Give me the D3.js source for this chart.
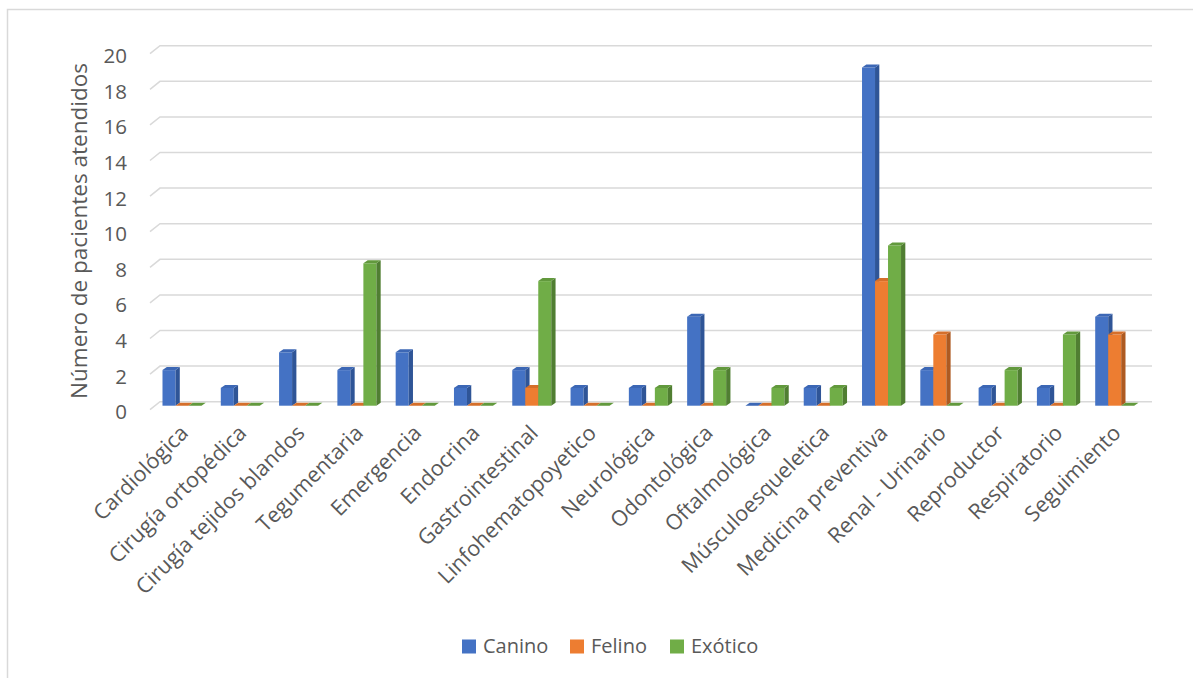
<!DOCTYPE html>
<html>
<head>
<meta charset="utf-8">
<script src="https://cdn.jsdelivr.net/npm/d3@7"></script>
<style>
  html, body { margin: 0; padding: 0; background: #fff; }
  svg { display: block; }
  text { font-family: "Open Sans", "Noto Sans", sans-serif; fill: #595959; }
</style>
</head>
<body>
<svg id="chart" width="1193" height="678"></svg>
<script>
// Patients seen per clinical area and species
const categories = [
  "Cardiológica", "Cirugía ortopédica", "Cirugía tejidos blandos", "Tegumentaria",
  "Emergencia", "Endocrina", "Gastrointestinal", "Linfohematopoyetico",
  "Neurológica", "Odontológica", "Oftalmológica", "Músculoesqueletica",
  "Medicina preventiva", "Renal - Urinario", "Reproductor", "Respiratorio", "Seguimiento"
];
const seriesNames = ["Canino", "Felino", "Exótico"];
const canino  = [2, 1, 3, 2, 3, 1, 2, 1, 1, 5, 0, 1, 19, 2, 1, 1, 5];
const felino  = [0, 0, 0, 0, 0, 0, 1, 0, 0, 0, 0, 0, 7, 4, 0, 0, 4];
const exotico = [0, 0, 0, 8, 0, 0, 7, 0, 1, 2, 1, 1, 9, 0, 2, 4, 0];
const yTicks  = [0, 2, 4, 6, 8, 10, 12, 14, 16, 18, 20];
const yTitle  = "Número de pacientes atendidos";

const seriesValues = [canino, felino, exotico];
const palette = [
  { front: "#4472C4", side: "#2F5597", top: "#3C67B5" },
  { front: "#ED7D31", side: "#AE5A21", top: "#D56F2B" },
  { front: "#70AD47", side: "#507E32", top: "#62993D" }
];

const svg = d3.select("#chart");

// outer chart frame (extends past the visible area on the right and bottom)
svg.append("rect")
  .attr("x", 7.5).attr("y", 9.5)
  .attr("width", 1200).attr("height", 700)
  .attr("fill", "none").attr("stroke", "#d9d9d9").attr("stroke-width", 1.5);

// 3D projection offsets
const depthX = 4.3, depthY = -3;      // bar depth
const wallX = 10, wallY = -8;         // floor depth to the back wall

const y = d3.scaleLinear().domain([0, 20]).range([405.7, 49.7]);
const x = d3.scaleBand().domain(categories).range([155, 1146]).padding(0);
const barW = 13;
const xs = d3.scaleBand().domain(seriesNames).range([0, barW * 3]).padding(0);

// back wall gridlines with the side-wall segment on the left
const wallLeft = 160, wallRight = 1152;
const grid = svg.append("g");
yTicks.forEach(t => {
  const yb = y(t) + 4 + wallY;
  grid.append("path")
    .attr("d", `M${wallLeft - wallX},${yb - wallY}L${wallLeft},${yb}L${wallRight},${yb}`)
    .attr("fill", "none").attr("stroke", "#d9d9d9").attr("stroke-width", 1.5);
});

// value axis labels
const yAxis = d3.axisLeft(y).tickValues(yTicks).tickSize(0).tickPadding(0);
const yAxisG = svg.append("g").attr("transform", "translate(127,6.5)").call(yAxis);
yAxisG.select(".domain").remove();
yAxisG.selectAll("text")
  .attr("font-size", 20.5)
  .attr("fill", "#595959")
  .style("font-family", "'Open Sans', sans-serif");

// axis title
svg.append("text")
  .attr("transform", `translate(87,231) rotate(-90)`)
  .attr("text-anchor", "middle")
  .attr("font-size", 22.5)
  .text(yTitle);

// bars
const bars = svg.append("g");
categories.forEach((c, ci) => {
  const cx0 = x(c) + (x.bandwidth() - (barW * 3 + depthX)) / 2;
  seriesNames.forEach((s, si) => {
    const v = seriesValues[si][ci];
    const x0 = cx0 + xs(s), x1 = x0 + barW;
    const yt = y(v), yb = y(0);
    const col = palette[si];
    const g = bars.append("g");
    if (v > 0) {
      g.append("rect")
        .attr("x", x0).attr("y", yt)
        .attr("width", barW).attr("height", yb - yt)
        .attr("fill", col.front);
      g.append("path")
        .attr("d", `M${x1},${yt}L${x1 + depthX},${yt + depthY}L${x1 + depthX},${yb + depthY}L${x1},${yb}Z`)
        .attr("fill", col.side);
    }
    g.append("path")
      .attr("d", `M${x0},${yt}L${x1},${yt}L${x1 + depthX},${yt + depthY}L${x0 + depthX},${yt + depthY}Z`)
      .attr("fill", col.top);
  });
});

// category labels
const xLabels = svg.append("g");
categories.forEach(c => {
  const cx = x(c) + x.bandwidth() / 2;
  xLabels.append("text")
    .attr("transform", `translate(${cx},${429}) rotate(-45)`)
    .attr("text-anchor", "end")
    .attr("dy", "0.35em")
    .attr("font-size", 21.5)
    .text(c);
});

// legend
const legend = svg.append("g");
const legendX = [462, 570, 670];
seriesNames.forEach((s, i) => {
  legend.append("rect")
    .attr("x", legendX[i]).attr("y", 639.5)
    .attr("width", 14).attr("height", 14)
    .attr("fill", palette[i].front);
  legend.append("text")
    .attr("x", legendX[i] + 21).attr("y", 653)
    .attr("font-size", 20)
    .text(s);
});
</script>
</body>
</html>
